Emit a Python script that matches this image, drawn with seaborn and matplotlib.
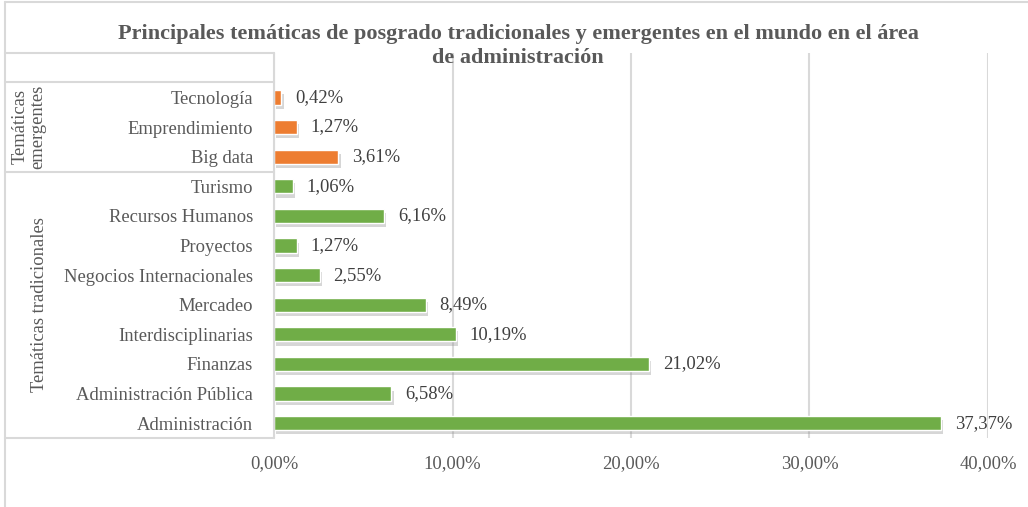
import matplotlib
matplotlib.use("Agg")
import matplotlib.pyplot as plt
import matplotlib.patheffects as pe
from matplotlib.lines import Line2D
from matplotlib.ticker import FuncFormatter
import seaborn as sns
import pandas as pd

categories = ["Tecnología", "Emprendimiento", "Big data", "Turismo", "Recursos Humanos",
              "Proyectos", "Negocios Internacionales", "Mercadeo", "Interdisciplinarias",
              "Finanzas", "Administración Pública", "Administración"]
values = [0.42, 1.27, 3.61, 1.06, 6.16, 1.27, 2.55, 8.49, 10.19, 21.02, 6.58, 37.37]
groups = ["emergentes"] * 3 + ["tradicionales"] * 9
group_labels = ["Temáticas\nemergentes", "Temáticas tradicionales"]
xticks = [0, 10, 20, 30, 40]
title = "Principales temáticas de posgrado tradicionales y emergentes en el mundo en el área\nde administración"

sns.set_theme(style="white")
plt.rcParams["font.family"] = ["Liberation Serif", "DejaVu Serif"]

W, H = 1028, 507
fig = plt.figure(figsize=(W / 100, H / 100), dpi=100)
ax = fig.add_axes([274 / W, 1 - 438 / H, (988 - 274) / W, (438 - 53) / H])

df = pd.DataFrame({"cat": categories, "val": values, "grp": groups})
palette = {"emergentes": "#ED7D31", "tradicionales": "#70AD47"}
sns.barplot(data=df, y="cat", x="val", hue="grp", palette=palette, dodge=False,
            order=categories, width=0.48, ax=ax, legend=False, zorder=3, saturation=1)

for p in ax.patches:
    p.set_path_effects([pe.SimplePatchShadow(offset=(1.5, -3), shadow_rgbFace="#8c8c8c", alpha=0.35),
                        pe.Normal()])

gray_text = "#595959"
fs = 13.4
for i, v in enumerate(values):
    ax.annotate(f"{v:.2f}".replace(".", ",") + "%", (v, i), xytext=(10, 0),
                textcoords="offset points", va="center", ha="left",
                fontsize=fs, color="#404040", zorder=4)

ax.set_xlim(0, 40)
ax.set_ylim(11.5, -1.5)
ax.set_xticks(xticks)
ax.xaxis.set_major_formatter(FuncFormatter(lambda x, _: f"{x:.2f}".replace(".", ",") + "%"))
ax.grid(axis="x", color="#D9D9D9", linewidth=1.5, zorder=0)
ax.grid(axis="y", visible=False)
for s in ax.spines.values():
    s.set_visible(False)
ax.set_xlabel("")
ax.set_ylabel("")
ax.tick_params(axis="x", length=0, pad=12, labelsize=fs, labelcolor=gray_text)
ax.tick_params(axis="y", length=0, pad=15, labelsize=fs, labelcolor=gray_text)

fig.text(518 / W, 1 - 46 / H, title, ha="center", va="center", fontsize=16,
         fontweight="bold", color=gray_text, linespacing=1.3)

lc = "#D9D9D9"
def fline(x0, y0, x1, y1, lw=1.5):
    fig.add_artist(Line2D([x0 / W, x1 / W], [1 - y0 / H, 1 - y1 / H], color=lc, linewidth=lw))

# outer frame
fline(5, 2, W, 2)
fline(5, 2, 5, H)
# grouping table
for y in (53, 82, 172, 438):
    fline(5, y, 274, y)
fline(274, 53, 274, 438)

fig.text(29 / W, 1 - 127 / H, group_labels[0], rotation=90, ha="center", va="center",
         fontsize=fs, color=gray_text, linespacing=1.0)
fig.text(40 / W, 1 - 305 / H, group_labels[1], rotation=90, ha="center", va="center",
         fontsize=fs, color=gray_text)

fig.savefig("out.png", dpi=100)
